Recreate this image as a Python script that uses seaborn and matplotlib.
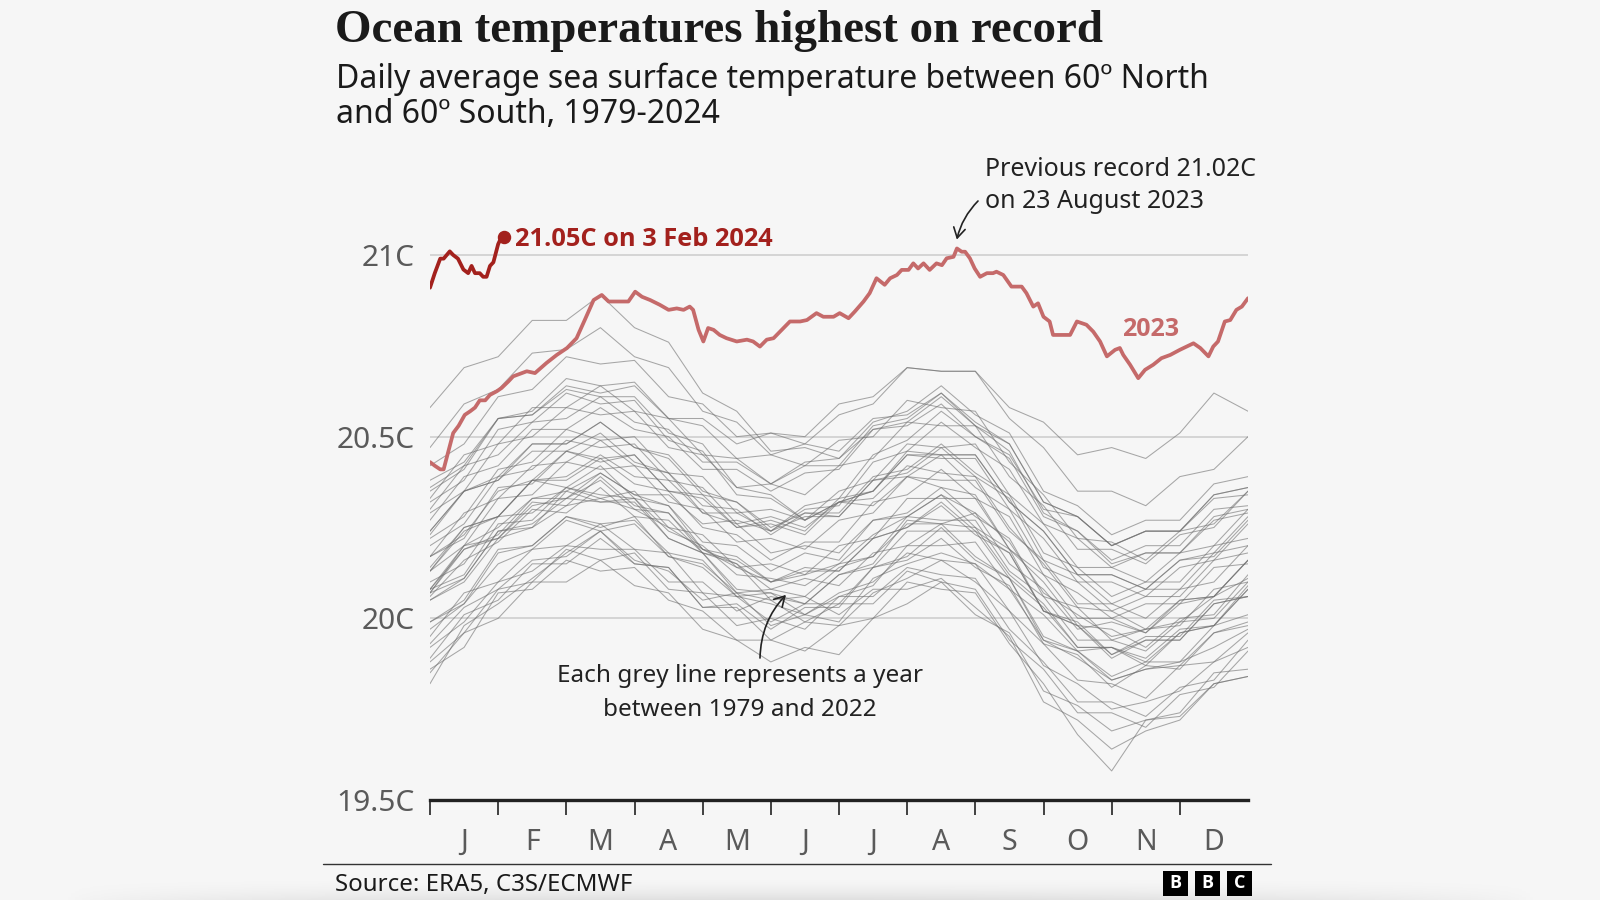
import numpy as np
import pandas as pd
import matplotlib
matplotlib.use("Agg")
import matplotlib.pyplot as plt
import seaborn as sns
from matplotlib.patches import Rectangle

# ---------------- data ----------------
month_labels = ["J", "F", "M", "A", "M", "J", "J", "A", "S", "O", "N", "D"]
y_ticks = [19.5, 20.0, 20.5, 21.0]
y_tick_labels = ["19.5C", "20C", "20.5C", "21C"]

# grey years: values every half month (1 Jan, 16 Jan, 1 Feb, ... 16 Dec, 31 Dec)
grey_years = {
    1979: [19.82, 19.98, 20.04, 20.11, 20.18, 20.24, 20.16, 20.13, 20.05, 20.07, 19.98, 20.01, 19.99, 20.11, 20.15, 20.18, 20.15, 20.08, 19.94, 19.89, 19.83, 19.86, 19.88, 19.92, 19.97],
    1980: [19.97, 20.04, 20.15, 20.19, 20.27, 20.24, 20.26, 20.17, 20.14, 20.06, 20.04, 20.01, 20.07, 20.10, 20.18, 20.16, 20.15, 20.02, 19.93, 19.83, 19.82, 19.78, 19.87, 19.88, 19.96],
    1981: [19.93, 20.03, 20.08, 20.16, 20.17, 20.24, 20.15, 20.14, 20.03, 20.03, 19.94, 19.99, 19.98, 20.07, 20.11, 20.16, 20.10, 20.02, 19.87, 19.82, 19.75, 19.77, 19.80, 19.88, 19.92],
    1982: [19.92, 19.99, 20.10, 20.13, 20.20, 20.19, 20.19, 20.10, 20.10, 20.02, 20.06, 20.04, 20.12, 20.15, 20.27, 20.26, 20.29, 20.15, 20.08, 19.97, 19.99, 19.96, 20.05, 20.06, 20.16],
    1983: [20.13, 20.24, 20.28, 20.38, 20.36, 20.42, 20.33, 20.31, 20.19, 20.15, 20.05, 20.06, 20.01, 20.08, 20.08, 20.11, 20.03, 19.95, 19.77, 19.72, 19.64, 19.69, 19.72, 19.82, 19.84],
    1984: [19.86, 19.92, 20.07, 20.08, 20.16, 20.13, 20.14, 20.05, 20.02, 19.94, 19.94, 19.91, 19.98, 20.00, 20.10, 20.08, 20.07, 19.93, 19.82, 19.68, 19.58, 19.72, 19.74, 19.85, 19.86],
    1985: [19.85, 19.96, 20.00, 20.10, 20.10, 20.16, 20.09, 20.07, 19.97, 19.94, 19.88, 19.92, 19.90, 20.00, 20.04, 20.10, 20.01, 19.96, 19.80, 19.76, 19.69, 19.72, 19.73, 19.82, 19.84],
    1986: [19.88, 19.96, 20.08, 20.10, 20.19, 20.16, 20.18, 20.08, 20.07, 19.98, 20.00, 19.97, 20.06, 20.09, 20.20, 20.20, 20.21, 20.08, 20.01, 19.91, 19.92, 19.89, 19.97, 19.98, 20.09],
    1987: [20.08, 20.20, 20.25, 20.33, 20.35, 20.40, 20.34, 20.31, 20.21, 20.20, 20.13, 20.18, 20.16, 20.27, 20.29, 20.36, 20.28, 20.22, 20.06, 20.03, 19.94, 19.97, 19.98, 20.08, 20.10],
    1988: [20.10, 20.15, 20.28, 20.29, 20.36, 20.34, 20.33, 20.22, 20.18, 20.07, 20.05, 19.99, 20.04, 20.04, 20.13, 20.10, 20.08, 19.94, 19.86, 19.74, 19.74, 19.70, 19.79, 19.81, 19.91],
    1989: [19.89, 20.01, 20.05, 20.15, 20.15, 20.22, 20.15, 20.14, 20.03, 20.04, 19.97, 20.03, 20.03, 20.14, 20.17, 20.25, 20.16, 20.11, 19.95, 19.91, 19.84, 19.88, 19.88, 19.98, 20.01],
    1990: [20.05, 20.11, 20.24, 20.25, 20.35, 20.32, 20.33, 20.24, 20.20, 20.12, 20.11, 20.09, 20.15, 20.17, 20.26, 20.26, 20.25, 20.12, 20.04, 19.92, 19.92, 19.87, 19.96, 19.98, 20.08],
    1991: [20.06, 20.16, 20.21, 20.30, 20.29, 20.36, 20.28, 20.27, 20.18, 20.16, 20.10, 20.13, 20.13, 20.22, 20.25, 20.31, 20.23, 20.18, 20.02, 19.99, 19.90, 19.95, 19.95, 20.05, 20.06],
    1992: [20.07, 20.11, 20.24, 20.26, 20.33, 20.32, 20.32, 20.22, 20.18, 20.08, 20.07, 20.01, 20.06, 20.06, 20.14, 20.12, 20.11, 19.97, 19.88, 19.77, 19.77, 19.73, 19.81, 19.83, 19.94],
    1993: [19.95, 20.07, 20.10, 20.19, 20.20, 20.26, 20.19, 20.18, 20.07, 20.06, 19.99, 20.04, 20.04, 20.14, 20.16, 20.22, 20.14, 20.09, 19.93, 19.90, 19.81, 19.87, 19.86, 19.96, 19.99],
    1994: [19.99, 20.04, 20.18, 20.20, 20.28, 20.25, 20.28, 20.17, 20.15, 20.07, 20.08, 20.06, 20.14, 20.17, 20.28, 20.27, 20.27, 20.13, 20.06, 19.94, 19.94, 19.91, 19.99, 20.00, 20.10],
    1995: [20.07, 20.20, 20.22, 20.31, 20.33, 20.38, 20.30, 20.29, 20.18, 20.15, 20.08, 20.11, 20.09, 20.18, 20.20, 20.26, 20.17, 20.11, 19.94, 19.91, 19.83, 19.86, 19.87, 19.96, 19.98],
    1996: [19.99, 20.05, 20.19, 20.20, 20.28, 20.26, 20.27, 20.18, 20.16, 20.06, 20.07, 20.04, 20.12, 20.14, 20.24, 20.24, 20.24, 20.11, 20.03, 19.92, 19.92, 19.88, 19.96, 19.98, 20.08],
    1997: [20.07, 20.19, 20.23, 20.33, 20.33, 20.40, 20.34, 20.34, 20.26, 20.27, 20.24, 20.31, 20.33, 20.45, 20.49, 20.57, 20.50, 20.45, 20.30, 20.28, 20.20, 20.24, 20.24, 20.33, 20.34],
    1998: [20.35, 20.41, 20.55, 20.56, 20.63, 20.61, 20.61, 20.51, 20.48, 20.36, 20.34, 20.27, 20.32, 20.31, 20.39, 20.36, 20.34, 20.19, 20.10, 19.98, 19.97, 19.92, 20.00, 20.01, 20.12],
    1999: [20.08, 20.19, 20.22, 20.32, 20.31, 20.39, 20.31, 20.29, 20.19, 20.17, 20.10, 20.14, 20.13, 20.22, 20.25, 20.32, 20.24, 20.18, 20.02, 19.98, 19.89, 19.94, 19.94, 20.04, 20.06],
    2000: [20.08, 20.12, 20.26, 20.27, 20.36, 20.33, 20.35, 20.25, 20.23, 20.14, 20.15, 20.12, 20.20, 20.22, 20.33, 20.33, 20.33, 20.19, 20.12, 20.00, 20.00, 19.96, 20.04, 20.06, 20.16],
    2001: [20.14, 20.25, 20.28, 20.38, 20.38, 20.44, 20.37, 20.35, 20.25, 20.23, 20.16, 20.21, 20.21, 20.32, 20.34, 20.41, 20.33, 20.28, 20.12, 20.07, 20.00, 20.04, 20.04, 20.14, 20.15],
    2002: [20.17, 20.23, 20.35, 20.38, 20.46, 20.43, 20.45, 20.35, 20.33, 20.25, 20.27, 20.24, 20.33, 20.35, 20.46, 20.45, 20.45, 20.32, 20.24, 20.12, 20.12, 20.08, 20.16, 20.17, 20.27],
    2003: [20.24, 20.35, 20.39, 20.48, 20.48, 20.54, 20.47, 20.44, 20.34, 20.32, 20.24, 20.28, 20.28, 20.38, 20.40, 20.47, 20.39, 20.33, 20.16, 20.12, 20.04, 20.08, 20.08, 20.18, 20.20],
    2004: [20.20, 20.26, 20.39, 20.41, 20.49, 20.47, 20.48, 20.38, 20.36, 20.26, 20.28, 20.25, 20.32, 20.35, 20.45, 20.44, 20.44, 20.30, 20.22, 20.10, 20.10, 20.06, 20.14, 20.16, 20.26],
    2005: [20.23, 20.35, 20.38, 20.48, 20.48, 20.54, 20.47, 20.45, 20.35, 20.32, 20.25, 20.29, 20.28, 20.38, 20.39, 20.45, 20.36, 20.30, 20.14, 20.10, 20.02, 20.06, 20.06, 20.16, 20.18],
    2006: [20.17, 20.22, 20.36, 20.37, 20.46, 20.44, 20.45, 20.35, 20.34, 20.25, 20.26, 20.23, 20.32, 20.35, 20.45, 20.45, 20.45, 20.32, 20.24, 20.12, 20.12, 20.08, 20.16, 20.18, 20.28],
    2007: [20.24, 20.35, 20.38, 20.46, 20.46, 20.51, 20.43, 20.40, 20.29, 20.26, 20.18, 20.20, 20.18, 20.27, 20.28, 20.34, 20.25, 20.19, 20.02, 19.98, 19.90, 19.94, 19.94, 20.04, 20.06],
    2008: [20.05, 20.10, 20.22, 20.25, 20.31, 20.33, 20.30, 20.25, 20.19, 20.14, 20.10, 20.12, 20.15, 20.23, 20.28, 20.34, 20.29, 20.21, 20.07, 20.01, 19.95, 19.97, 19.99, 20.06, 20.11],
    2009: [20.13, 20.25, 20.28, 20.38, 20.39, 20.45, 20.39, 20.38, 20.29, 20.29, 20.24, 20.30, 20.31, 20.43, 20.46, 20.54, 20.47, 20.41, 20.26, 20.22, 20.14, 20.18, 20.18, 20.28, 20.30],
    2010: [20.32, 20.38, 20.52, 20.54, 20.62, 20.59, 20.60, 20.49, 20.46, 20.34, 20.33, 20.27, 20.32, 20.33, 20.42, 20.40, 20.39, 20.25, 20.15, 20.03, 20.02, 19.97, 20.05, 20.06, 20.16],
    2011: [20.13, 20.20, 20.33, 20.34, 20.43, 20.41, 20.42, 20.32, 20.30, 20.21, 20.22, 20.19, 20.27, 20.29, 20.39, 20.38, 20.38, 20.24, 20.16, 20.04, 20.04, 20.00, 20.08, 20.10, 20.20],
    2012: [20.17, 20.29, 20.33, 20.42, 20.43, 20.49, 20.42, 20.40, 20.31, 20.30, 20.23, 20.29, 20.29, 20.39, 20.41, 20.48, 20.40, 20.34, 20.18, 20.14, 20.06, 20.10, 20.10, 20.20, 20.22],
    2013: [20.22, 20.28, 20.41, 20.43, 20.52, 20.49, 20.50, 20.40, 20.39, 20.29, 20.30, 20.27, 20.35, 20.38, 20.48, 20.47, 20.48, 20.34, 20.26, 20.14, 20.14, 20.10, 20.18, 20.20, 20.30],
    2014: [20.27, 20.39, 20.42, 20.52, 20.52, 20.58, 20.52, 20.50, 20.41, 20.41, 20.35, 20.40, 20.41, 20.52, 20.54, 20.61, 20.53, 20.48, 20.32, 20.28, 20.20, 20.24, 20.24, 20.34, 20.36],
    2015: [20.38, 20.43, 20.55, 20.56, 20.64, 20.62, 20.64, 20.55, 20.55, 20.48, 20.51, 20.50, 20.59, 20.61, 20.69, 20.68, 20.68, 20.58, 20.54, 20.45, 20.47, 20.44, 20.51, 20.62, 20.57],
    2016: [20.58, 20.69, 20.72, 20.82, 20.82, 20.89, 20.80, 20.76, 20.62, 20.57, 20.46, 20.47, 20.44, 20.52, 20.53, 20.59, 20.50, 20.44, 20.28, 20.24, 20.16, 20.20, 20.20, 20.30, 20.31],
    2017: [20.36, 20.42, 20.55, 20.57, 20.66, 20.64, 20.65, 20.55, 20.53, 20.44, 20.45, 20.42, 20.49, 20.50, 20.60, 20.58, 20.57, 20.43, 20.34, 20.22, 20.21, 20.16, 20.24, 20.26, 20.35],
    2018: [20.30, 20.42, 20.45, 20.54, 20.55, 20.61, 20.54, 20.52, 20.43, 20.43, 20.37, 20.43, 20.44, 20.54, 20.57, 20.64, 20.56, 20.51, 20.35, 20.31, 20.23, 20.27, 20.27, 20.37, 20.39],
    2019: [20.42, 20.48, 20.61, 20.63, 20.72, 20.70, 20.71, 20.61, 20.59, 20.50, 20.51, 20.48, 20.56, 20.59, 20.69, 20.68, 20.68, 20.55, 20.47, 20.35, 20.35, 20.31, 20.39, 20.41, 20.50],
    2020: [20.47, 20.59, 20.63, 20.73, 20.74, 20.80, 20.72, 20.69, 20.57, 20.54, 20.45, 20.48, 20.46, 20.55, 20.56, 20.62, 20.53, 20.46, 20.29, 20.24, 20.15, 20.18, 20.18, 20.27, 20.29],
    2021: [20.29, 20.35, 20.48, 20.50, 20.58, 20.56, 20.57, 20.47, 20.45, 20.36, 20.37, 20.34, 20.42, 20.44, 20.54, 20.53, 20.53, 20.39, 20.31, 20.19, 20.19, 20.15, 20.23, 20.25, 20.35],
    2022: [20.33, 20.45, 20.48, 20.58, 20.58, 20.64, 20.57, 20.55, 20.45, 20.44, 20.37, 20.42, 20.42, 20.53, 20.55, 20.62, 20.54, 20.48, 20.32, 20.28, 20.20, 20.24, 20.24, 20.34, 20.36],
}

# 2023 (month position: 0 = 1 Jan, 12 = 31 Dec)
sst_2023_month = [0.00, 0.07, 0.15, 0.20, 0.27, 0.34, 0.42, 0.51, 0.59, 0.66, 0.73, 0.81, 0.88, 0.98,
                  1.05, 1.15, 1.22, 1.42, 1.54, 1.71, 1.86, 2.01, 2.15, 2.27, 2.40, 2.52, 2.62, 2.79,
                  2.91, 3.01, 3.11, 3.23, 3.37, 3.50, 3.62, 3.72, 3.81, 3.86, 3.94, 4.01, 4.08, 4.16,
                  4.25, 4.35, 4.50, 4.65, 4.74, 4.84, 4.94, 5.04, 5.16, 5.28, 5.43, 5.53, 5.67, 5.77,
                  5.92, 6.01, 6.14, 6.23, 6.36, 6.45, 6.55, 6.67, 6.75, 6.85, 6.92, 7.02, 7.09, 7.16,
                  7.24, 7.33, 7.43, 7.51, 7.58, 7.68, 7.73, 7.80, 7.85, 7.92, 7.99, 8.07, 8.17, 8.26,
                  8.31, 8.41, 8.53, 8.68, 8.75, 8.85, 8.92, 9.00, 9.09, 9.14, 9.29, 9.39, 9.49, 9.63,
                  9.73, 9.83, 9.93, 10.05, 10.12, 10.17, 10.27, 10.39, 10.49, 10.61, 10.73, 10.86,
                  11.00, 11.10, 11.20, 11.30, 11.42, 11.49, 11.56, 11.66, 11.74, 11.83, 11.91, 12.00]
sst_2023_value = [20.43, 20.42, 20.41, 20.41, 20.46, 20.51, 20.53, 20.56, 20.57, 20.58, 20.60, 20.60, 20.615, 20.625,
                  20.634, 20.652, 20.666, 20.68, 20.675, 20.703, 20.725, 20.744, 20.771, 20.821, 20.876, 20.89, 20.872, 20.872,
                  20.872, 20.899, 20.885, 20.876, 20.863, 20.849, 20.853, 20.849, 20.858, 20.849, 20.794, 20.762, 20.799, 20.794,
                  20.78, 20.771, 20.762, 20.767, 20.762, 20.748, 20.767, 20.771, 20.794, 20.817, 20.817, 20.821, 20.84, 20.83,
                  20.83, 20.84, 20.826, 20.844, 20.872, 20.895, 20.936, 20.918, 20.936, 20.945, 20.959, 20.959, 20.977, 20.963,
                  20.977, 20.959, 20.977, 20.972, 20.991, 20.995, 21.018, 21.009, 21.009, 20.991, 20.963, 20.94, 20.95, 20.95,
                  20.954, 20.945, 20.913, 20.913, 20.895, 20.858, 20.867, 20.83, 20.817, 20.78, 20.78, 20.78, 20.817, 20.808,
                  20.789, 20.762, 20.721, 20.739, 20.744, 20.725, 20.698, 20.661, 20.684, 20.698, 20.716, 20.725,
                  20.739, 20.748, 20.757, 20.744, 20.721, 20.748, 20.762, 20.817, 20.821, 20.849, 20.858, 20.881]

# 2024 up to 3 Feb
sst_2024_month = [0.00, 0.07, 0.15, 0.20, 0.29, 0.34, 0.41, 0.49, 0.56, 0.61, 0.66, 0.73, 0.78, 0.83, 0.88, 0.93, 1.00, 1.05, 1.08]
sst_2024_value = [20.91, 20.95, 20.99, 20.99, 21.01, 21.00, 20.99, 20.96, 20.95, 20.97, 20.95, 20.95, 20.94, 20.94, 20.97, 20.98, 21.03, 21.05, 21.05]

# ---------------- styling ----------------
BG = "#f6f6f6"
SANS = ["Noto Sans", "DejaVu Sans"]
SANS_BOLD = ["Open Sans", "DejaVu Sans"]
SERIF = ["Liberation Serif", "DejaVu Serif"]
RED_2024 = "#a3211d"
RED_2023 = "#c56a6a"
GREY_TXT = "#5a5a5a"
DARK = "#222222"

sns.set_theme(style="white")
plt.rcParams["font.family"] = SANS

W, H = 1600, 900
fig = plt.figure(figsize=(W / 100, H / 100), dpi=100, facecolor=BG)

YMIN, YMAX = 19.5, 21.12
px_per_deg = (800 - 255) / 1.5
ax_left, ax_right, ax_bottom_px = 430, 1248, 800
ax_h_px = (YMAX - YMIN) * px_per_deg
ax = fig.add_axes([ax_left / W, 1 - ax_bottom_px / H, (ax_right - ax_left) / W, ax_h_px / H])
ax.set_facecolor(BG)

# soft shadow along the bottom edge
sh = fig.add_axes([0.04, 0, 0.92, 26 / H], zorder=-5)
gy = np.linspace(0, 1, 26)[:, None] ** 2
gx = np.sin(np.linspace(0, np.pi, 400))[None, :] ** 0.6
rgba = np.zeros((26, 400, 4))
rgba[..., 3] = gy * gx * 0.09
sh.imshow(rgba, aspect="auto", extent=[0, 1, 0, 1], origin="upper")
sh.set_axis_off()

# grey year lines
rows = []
for yr, vals in grey_years.items():
    pos = np.linspace(0, 12, len(vals))
    for p, v in zip(pos, vals):
        rows.append((yr, p, v))
grey_df = pd.DataFrame(rows, columns=["year", "month", "sst"])
sns.lineplot(data=grey_df, x="month", y="sst", units="year", estimator=None, sort=False,
             color="#707070", lw=0.75, alpha=0.6, ax=ax, legend=False)

df23 = pd.DataFrame({"month": sst_2023_month, "sst": sst_2023_value})
sns.lineplot(data=df23, x="month", y="sst", color=RED_2023, lw=2.7, ax=ax, sort=False,
             estimator=None, solid_joinstyle="round", solid_capstyle="round")
df24 = pd.DataFrame({"month": sst_2024_month, "sst": sst_2024_value})
sns.lineplot(data=df24, x="month", y="sst", color=RED_2024, lw=2.7, ax=ax, sort=False,
             estimator=None, solid_joinstyle="round", solid_capstyle="round")
ax.scatter([sst_2024_month[-1]], [sst_2024_value[-1]], s=75, color=RED_2024, zorder=5, clip_on=False)

ax.set_xlim(0, 12)
ax.set_ylim(YMIN, YMAX)
ax.set_xlabel("")
ax.set_ylabel("")

for s in ["top", "right", "left"]:
    ax.spines[s].set_visible(False)
ax.spines["bottom"].set_color(DARK)
ax.spines["bottom"].set_linewidth(2.4)
ax.spines["bottom"].set_zorder(6)

ax.set_yticks(y_ticks)
ax.set_yticklabels(y_tick_labels)
ax.tick_params(axis="y", length=0, pad=11, labelsize=21.5, labelcolor=GREY_TXT)
ax.grid(False)
for yv in y_ticks[1:]:
    ax.axhline(yv, color="#cccccc", lw=1.1, zorder=0)

ax.set_xticks(range(12))
ax.set_xticklabels([""] * 12)
ax.set_xticks(np.arange(12) + 0.5, minor=True)
ax.set_xticklabels(month_labels, minor=True)
ax.tick_params(axis="x", which="major", length=11, width=1.2, color=DARK, direction="out", bottom=True)
ax.tick_params(axis="x", which="minor", length=0, pad=20, labelsize=20.5, labelcolor=GREY_TXT, bottom=True)

# ---------------- texts ----------------
def fy(y):
    return 1 - y / H

fig.text(335 / W, fy(42), "Ocean temperatures highest on record", family=SERIF, weight="bold",
         fontsize=33.8, color="#1a1a1a", va="baseline", ha="left")
fig.text(336 / W, fy(88), "Daily average sea surface temperature between 60º North", family=SANS,
         fontsize=23, color="#1a1a1a", va="baseline", ha="left")
fig.text(336 / W, fy(123), "and 60º South, 1979-2024", family=SANS,
         fontsize=23, color="#1a1a1a", va="baseline", ha="left")

fig.text(515 / W, fy(240), "21.05C on 3 Feb 2024", family=SANS_BOLD, weight="bold", fontsize=18.3,
         color=RED_2024, va="center", ha="left")
fig.text(1151 / W, fy(329), "2023", family=SANS_BOLD, weight="bold", fontsize=18,
         color=RED_2023, va="center", ha="center")
fig.text(985 / W, fy(185.5), "Previous record 21.02C\non 23 August 2023", family=SANS, fontsize=18,
         color=DARK, va="center", ha="left", linespacing=1.33)
fig.text(740 / W, fy(693), "Each grey line represents a year\nbetween 1979 and 2022", family=SANS,
         fontsize=17.5, color=DARK, va="center", ha="center", linespacing=1.55, multialignment="center")

ax.annotate("", xy=(7.72, 21.035), xycoords="data", xytext=(978, H - 201), textcoords="figure pixels",
            arrowprops=dict(arrowstyle="->,head_length=0.6,head_width=0.35", color=DARK, lw=1.2,
                            connectionstyle="arc3,rad=0.15", shrinkA=0, shrinkB=2),
            annotation_clip=False)
ax.annotate("", xy=(5.25, 20.07), xycoords="data", xytext=(760, H - 658), textcoords="figure pixels",
            arrowprops=dict(arrowstyle="->,head_length=0.6,head_width=0.35", color=DARK, lw=1.2,
                            connectionstyle="arc3,rad=-0.2", shrinkA=0, shrinkB=2),
            annotation_clip=False)

# footer
fig.add_artist(plt.Line2D([323 / W, 1271 / W], [fy(864), fy(864)], color="#333333", lw=1.0))
fig.text(335 / W, fy(885), "Source: ERA5, C3S/ECMWF", family=SANS, fontsize=17.3, color="#1a1a1a",
         va="center", ha="left")
for i, letter in enumerate("BBC"):
    x0 = 1163 + i * 32
    fig.add_artist(Rectangle((x0 / W, fy(896)), 25 / W, 25 / H, transform=fig.transFigure,
                             facecolor="#000000", edgecolor="none"))
    fig.text((x0 + 12.5) / W, fy(883.5), letter, family=SANS_BOLD, weight="bold", fontsize=13,
             color="white", ha="center", va="center")

fig.savefig("out.png", dpi=100, facecolor=BG)
